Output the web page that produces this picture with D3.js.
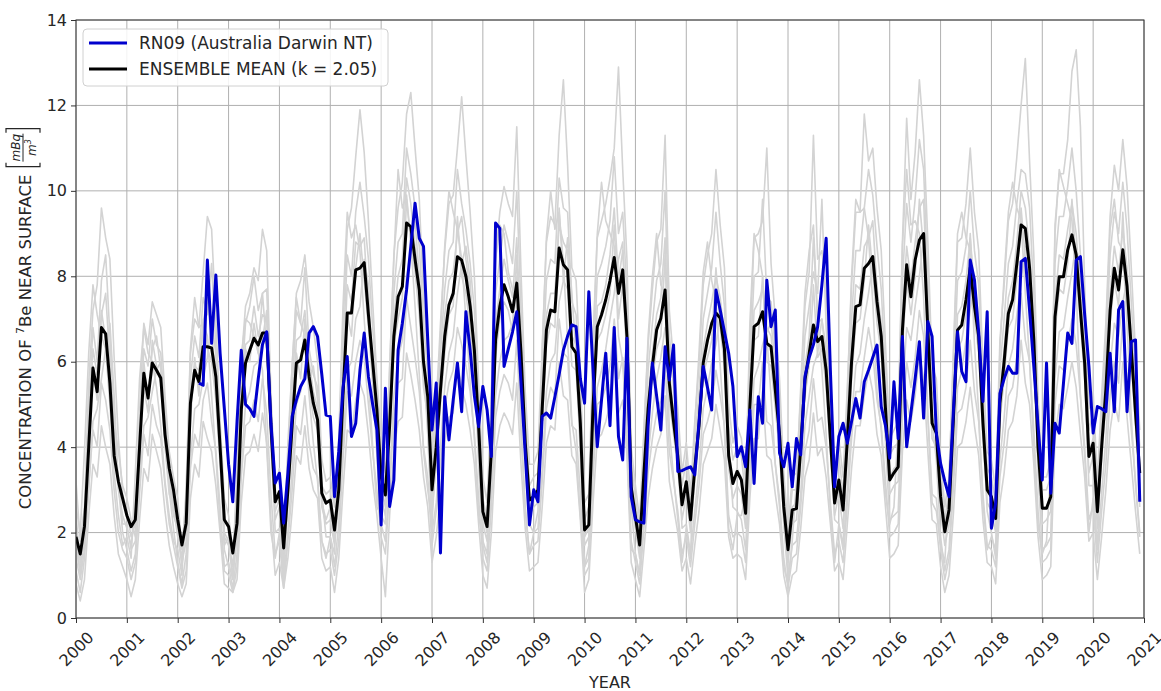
<!DOCTYPE html>
<html><head><meta charset="utf-8">
<script src="https://cdn.jsdelivr.net/npm/d3@7"></script>
<style>
body{margin:0;background:#fff}
text{font-family:"DejaVu Sans",sans-serif;fill:#262626}
</style></head>
<body><svg id="chart" width="1161" height="691"></svg>
<script>
// ---------- DATA ----------
const xTickYears = [2000,2001,2002,2003,2004,2005,2006,2007,2008,2009,2010,2011,2012,2013,2014,2015,2016,2017,2018,2019,2020,2021];
const yTicks = [0,2,4,6,8,10,12,14];
const seriesStartYear = 2000; // monthly values, January 2000 onward

const ensembleMean = [
1.9,1.5,2.15,4.0,5.85,5.3,6.8,6.65,5.5,3.8,3.2,2.8,
2.4,2.14,2.3,4.0,5.73,5.15,5.97,5.8,5.62,4.3,3.5,3.0,
2.3,1.71,2.22,5.03,5.8,5.53,6.35,6.35,6.32,5.65,4.0,2.3,
2.14,1.52,2.22,4.87,5.97,6.27,6.55,6.39,6.67,6.67,4.5,2.72,
2.96,1.64,3.0,4.5,5.97,6.04,6.51,5.65,5.03,4.64,2.92,2.69,
2.76,2.06,3.0,5.2,7.14,7.14,8.15,8.19,8.32,7.1,6.0,4.87,
3.31,2.88,4.5,6.59,7.52,7.76,9.25,9.16,8.4,7.68,6.0,5.18,
3.0,4.0,5.34,6.59,7.33,7.6,8.46,8.38,8.0,7.3,6.27,4.48,
2.49,2.14,3.93,6.51,7.3,7.8,7.52,7.17,7.84,6.2,4.1,2.76,
2.85,3.0,4.9,6.74,7.21,7.17,8.66,8.27,8.15,6.35,6.2,4.56,
2.06,2.18,4.95,6.82,7.1,7.45,7.9,8.44,7.6,8.15,6.59,3.07,
2.37,1.71,3.39,4.9,5.89,6.74,7.02,7.68,5.5,4.6,3.78,2.65,
3.19,2.3,3.5,4.5,5.97,6.5,6.9,7.14,7.02,6.3,3.8,3.15,
3.43,3.23,2.45,4.95,6.82,6.9,7.17,6.43,6.35,5.34,4.3,2.6,
1.6,2.53,2.56,4.0,5.57,6.2,6.86,6.47,6.59,5.8,4.2,2.69,
3.23,2.53,4.17,6.0,7.29,7.33,8.19,8.3,8.46,7.4,6.59,4.9,
3.23,3.4,3.54,6.74,8.27,7.52,8.38,8.85,9.0,6.74,4.56,4.33,
2.84,2.02,2.53,4.6,6.74,6.86,7.45,8.2,7.3,6.59,4.56,3.0,
2.84,2.33,5.03,6.0,7.13,7.45,8.3,9.2,9.12,8.2,6.5,4.0,
2.57,2.57,2.84,7.05,7.99,7.99,8.62,8.97,8.5,7.2,5.97,3.78,
4.09,2.49,4.0,5.34,7.2,8.19,7.68,8.62,7.76,6.3,4.8,3.39
];

const rn09StartMonth = 29; // June 2002 (months after January 2000)
const rn09 = [
5.5,5.45,8.38,6.43,8.03,6.2,4.9,
3.6,2.72,4.6,6.27,5.0,4.9,4.72,5.6,6.4,6.7,4.56,3.16,
3.39,2.22,3.4,4.72,5.1,5.42,5.6,6.67,6.82,6.59,5.7,4.75,
4.72,2.84,3.9,5.4,6.12,4.25,4.56,5.8,6.67,5.65,5.0,4.4,
2.18,5.38,2.61,3.23,6.27,6.9,7.68,8.7,9.71,8.89,8.7,6.5,
4.4,5.5,1.52,5.18,4.17,5.1,5.97,4.83,7.17,6.27,5.2,4.48,
5.42,4.87,3.78,9.25,9.12,5.89,6.3,6.7,7.17,5.5,3.85,2.18,
3.0,2.72,4.72,4.8,4.68,5.18,5.7,6.27,6.6,6.86,6.82,5.6,
5.03,7.64,5.8,4.01,5.1,6.2,4.5,6.8,4.25,3.7,6.55,2.84,
2.3,2.25,2.22,4.5,5.97,5.2,4.4,6.35,5.57,6.39,3.43,3.45,
3.5,3.54,3.35,4.6,5.89,5.4,4.87,7.68,7.21,6.7,6.2,5.42,
3.78,4.01,3.54,4.87,3.15,5.18,4.56,7.91,6.82,7.21,3.86,3.54,
4.09,3.07,4.2,3.82,5.65,6.1,6.4,6.82,7.8,8.89,5.8,3.07,
4.25,4.56,4.09,4.6,5.14,4.68,5.53,5.8,6.1,6.39,4.95,4.5,
3.74,5.53,4.2,6.59,4.01,4.8,5.6,6.47,4.68,6.94,6.59,4.33,
3.62,3.2,2.84,4.8,6.7,5.77,5.53,8.38,7.91,6.67,5.07,7.17,
2.1,2.69,5.26,5.6,5.89,5.73,5.73,8.34,8.42,7.2,5.89,4.5,
3.23,5.97,2.92,4.56,4.33,5.5,6.67,6.43,8.38,8.46,7.1,5.89,
4.33,4.95,4.9,4.83,6.2,4.83,7.21,7.41,4.83,6.47,6.51,2.72
];

// individual ensemble members (grey)
const memberA = [
3.2,1.8,2.6,5.5,7.2,7.8,9.6,8.9,8.4,6.1,4.2,2.9,
2.5,1.9,2.2,4.8,6.9,6.4,7.4,7.1,6.8,5.2,3.9,3.3,
2.8,1.6,2.9,6.2,7.0,6.8,8.1,9.4,9.1,7.0,4.6,2.8,
2.4,1.5,3.1,6.0,7.3,7.6,8.2,7.9,9.1,8.6,5.2,3.1,
3.5,2.1,3.8,5.9,7.6,7.9,8.5,7.4,6.8,6.0,3.7,3.2,
3.3,2.6,4.0,6.8,9.1,9.6,10.8,11.9,10.9,9.3,7.4,5.6,
4.2,3.4,5.8,8.5,9.6,10.2,11.8,12.3,11.0,9.8,7.5,6.1,
3.8,5.0,6.9,8.6,9.7,9.9,11.0,12.2,10.8,9.5,8.0,5.5,
3.3,2.7,5.1,8.4,9.5,10.1,9.7,9.4,11.5,8.1,5.3,3.6,
3.6,3.9,6.3,8.8,9.4,9.2,11.3,12.6,10.6,8.2,7.9,5.8,
2.7,2.9,6.4,8.9,9.3,9.7,10.3,11.0,12.9,10.5,8.4,4.0,
3.1,2.3,4.4,6.4,7.7,8.8,9.1,11.3,7.2,6.0,4.9,3.4,
4.1,2.9,4.6,5.9,7.8,8.5,9.0,10.5,9.2,8.2,5.0,4.1,
4.5,4.2,3.2,6.4,8.9,9.0,9.3,11.0,8.3,7.0,5.6,3.4,
2.1,3.3,3.4,5.2,7.3,8.1,11.3,8.4,8.6,7.6,5.5,3.5,
4.2,3.3,5.4,7.8,9.5,9.5,11.8,10.7,11.0,9.6,8.6,6.4,
4.2,4.4,4.6,8.8,11.7,9.8,10.9,12.6,11.3,8.8,5.9,5.6,
3.7,2.6,3.3,6.0,8.8,8.9,9.7,11.0,9.5,8.6,5.9,3.9,
3.7,3.0,6.5,7.8,9.3,9.7,10.8,12.0,13.1,10.7,8.5,5.2,
3.3,3.3,3.7,9.2,10.4,10.4,11.2,12.8,13.3,11.5,7.8,4.9,
5.3,3.2,5.2,6.9,9.4,10.6,10.0,11.2,10.1,8.2,6.2,4.4
];
const memberB = [
2.4,1.3,2.0,4.9,6.8,6.0,7.9,8.5,6.6,4.6,3.9,3.1,
2.8,2.3,1.9,4.1,6.3,5.9,7.0,6.4,6.2,4.8,3.4,2.6,
2.0,1.4,2.5,5.6,6.6,6.1,7.5,7.1,8.3,6.3,4.5,2.0,
1.8,1.2,2.6,5.4,6.9,7.3,8.0,7.2,7.6,7.7,5.0,3.2,
3.3,1.5,3.4,5.3,7.2,6.9,8.2,6.3,5.7,5.4,3.1,2.9,
3.0,2.2,3.5,6.1,8.5,8.0,9.5,10.2,9.4,8.4,6.8,5.5,
3.6,3.1,5.2,7.6,8.8,9.0,11.0,10.4,9.6,8.7,6.9,5.7,
3.4,4.6,6.2,7.7,8.6,8.8,10.5,9.7,9.1,8.3,7.2,5.0,
2.8,2.3,4.5,7.6,8.4,9.2,8.8,8.3,10.0,7.3,4.8,3.1,
3.3,3.4,5.7,7.9,8.4,8.3,10.3,9.6,9.5,7.4,7.1,5.1,
2.3,2.6,5.8,8.0,8.3,8.7,9.3,10.8,9.0,9.5,7.6,3.6,
2.8,2.0,3.9,5.8,6.9,7.9,8.3,10.0,6.5,5.4,4.4,3.1,
3.7,2.6,4.1,5.3,7.0,7.6,8.2,9.5,8.3,7.3,4.5,3.7,
4.0,3.8,2.8,5.8,8.0,8.1,9.8,7.5,7.4,6.3,5.0,3.1,
1.9,3.0,3.0,4.7,6.6,7.3,8.1,7.6,9.8,6.8,4.9,3.2,
3.8,2.9,4.9,7.0,8.6,8.6,9.6,10.5,9.9,8.7,7.7,5.7,
3.8,4.0,4.1,7.9,9.7,8.8,9.8,11.2,10.5,7.9,5.3,5.0,
3.3,2.3,3.0,5.4,7.9,8.1,8.7,10.0,8.6,7.8,5.3,3.5,
3.3,2.7,5.8,7.0,8.3,8.7,9.7,10.5,10.4,9.6,7.6,4.7,
3.0,3.0,3.3,8.3,9.4,9.4,10.1,11.0,10.0,8.5,7.0,4.4,
4.8,2.9,4.7,6.3,8.5,9.5,9.0,10.2,9.1,7.4,5.6,4.0
];
const memberC = [
1.6,1.1,2.3,3.8,5.9,5.1,7.2,6.5,5.7,4.4,3.0,2.4,
2.1,1.7,2.4,4.3,5.4,4.8,6.5,5.9,5.5,4.0,2.9,2.6,
1.9,1.3,1.8,4.6,6.1,5.2,7.0,6.3,6.0,5.1,3.6,1.9,
1.7,1.0,1.9,4.5,6.3,6.0,6.9,6.2,7.6,6.3,4.0,2.3,
2.6,1.2,2.7,4.2,6.2,5.6,7.0,5.4,4.7,4.4,2.6,2.2,
2.3,1.7,2.7,5.0,7.1,6.6,8.2,9.0,7.9,6.8,5.5,4.3,
2.8,2.4,4.2,6.4,7.0,7.5,9.8,8.8,8.1,7.1,5.4,4.7,
2.5,3.6,5.0,6.2,7.1,7.3,9.4,8.0,7.6,6.8,5.7,4.0,
2.2,1.8,3.7,6.1,7.0,7.4,7.2,6.7,8.5,5.7,3.8,2.4,
2.6,2.7,4.5,6.4,6.9,6.8,9.6,7.9,7.7,5.9,5.8,4.1,
1.7,1.9,4.6,6.5,6.7,7.1,7.6,9.2,7.0,7.8,6.1,2.8,
2.1,1.4,3.1,4.6,5.6,6.3,6.6,8.5,5.1,4.3,3.5,2.3,
2.9,2.0,3.2,4.2,5.7,6.1,6.5,8.2,6.8,5.9,3.5,2.8,
3.1,2.9,2.1,4.6,6.5,6.6,8.0,6.0,5.9,4.9,3.9,2.3,
1.3,2.2,2.3,3.6,5.2,5.9,7.8,6.1,6.3,5.4,3.9,2.4,
2.9,2.1,3.8,5.6,6.9,7.0,7.9,9.2,8.1,6.9,6.2,4.5,
2.9,3.1,3.2,6.3,7.9,7.1,8.0,9.8,8.6,6.4,4.2,4.0,
2.5,1.7,2.2,4.2,6.3,6.5,7.1,9.0,7.0,6.2,4.2,2.7,
2.5,2.0,4.6,5.6,6.8,7.0,7.9,9.6,8.4,7.8,6.1,3.7,
2.2,2.3,2.5,6.7,7.7,7.6,8.3,9.8,8.2,6.9,5.6,3.4,
3.8,2.1,3.7,5.0,6.9,7.9,7.3,9.5,7.4,6.0,4.5,3.1
];
const memberD = [
1.1,0.6,1.4,3.1,4.4,4.0,5.5,5.1,4.4,3.0,2.0,1.6,
1.4,0.9,1.3,2.9,4.3,3.8,5.0,4.5,4.2,3.1,2.2,1.7,
1.2,0.7,1.1,3.5,4.3,4.0,5.1,5.5,4.6,3.9,2.6,1.1,
1.0,0.6,1.2,3.3,4.5,4.6,5.1,4.6,5.6,4.8,2.9,1.5,
1.8,0.7,1.8,3.0,4.5,4.3,5.2,4.1,3.5,3.3,1.8,1.5,
1.6,1.0,1.8,3.7,5.3,5.2,6.0,6.5,6.1,5.0,3.9,3.0,
1.9,1.5,3.0,4.7,5.5,5.6,7.5,6.8,6.1,5.3,4.0,3.3,
1.7,2.5,3.6,4.9,5.5,5.8,6.8,6.4,5.9,5.3,4.3,2.8,
1.4,1.1,2.6,4.7,5.3,5.7,5.5,5.1,6.5,4.3,2.6,1.5,
1.7,1.8,3.2,4.9,5.4,5.2,7.0,6.2,6.1,4.5,4.4,2.9,
1.0,1.2,3.3,5.0,5.1,5.4,5.9,7.0,5.6,6.1,4.5,1.8,
1.3,0.8,2.1,3.4,4.2,4.8,5.1,6.0,3.9,3.2,2.5,1.5,
1.9,1.2,2.2,3.1,4.3,4.6,5.0,5.8,5.2,4.5,2.4,1.9,
2.0,1.9,1.3,3.4,5.0,5.0,6.0,4.6,4.5,3.6,2.8,1.4,
0.7,1.4,1.5,2.6,3.9,4.4,5.6,4.6,4.7,4.0,2.7,1.5,
1.8,1.3,2.7,4.2,5.3,5.3,6.1,6.8,6.2,5.1,4.5,3.2,
1.9,2.0,2.2,4.7,6.0,5.4,6.1,7.2,6.6,4.7,2.9,2.8,
1.6,0.9,1.4,3.0,4.8,4.9,5.4,6.5,5.3,4.6,2.9,1.7,
1.6,1.2,3.3,4.1,5.2,5.4,6.1,7.6,6.5,6.0,4.4,2.5,
1.3,1.4,1.6,5.0,5.9,5.8,6.4,7.0,6.4,5.2,4.0,2.3,
2.6,1.3,2.5,3.6,5.2,6.0,5.5,7.0,5.6,4.4,3.2,2.0
];
const memberE = [
0.8,0.4,0.9,2.4,3.6,3.3,4.5,4.0,3.6,2.4,1.5,1.2,
0.9,0.5,0.9,2.3,3.5,3.2,4.3,3.9,3.5,2.5,1.7,1.2,
0.8,0.5,0.8,2.8,3.6,3.3,4.6,4.2,3.9,3.1,2.0,0.8,
0.7,0.6,0.9,2.7,3.8,3.9,4.3,3.9,4.8,4.1,2.3,1.0,
1.3,0.7,1.4,2.5,3.8,3.6,4.5,3.5,3.0,2.8,1.4,1.1,
1.2,0.6,1.4,3.0,4.4,4.3,5.1,5.5,5.2,4.3,3.2,2.4,
1.4,0.5,2.4,3.9,4.6,4.7,6.2,5.7,5.1,4.4,3.3,2.6,
1.3,1.9,2.9,4.1,4.7,4.8,6.0,5.4,5.0,4.4,3.6,2.2,
1.0,0.7,2.0,3.9,4.5,4.8,4.6,4.3,5.5,3.6,2.1,1.1,
1.2,1.3,2.6,4.1,4.5,4.4,6.0,5.2,5.1,3.8,3.6,2.3,
0.6,0.9,2.7,4.2,4.3,4.6,5.0,6.2,4.8,5.1,3.8,1.3,
0.9,0.5,1.6,2.8,3.5,4.0,4.3,5.2,3.2,2.6,2.0,1.1,
1.4,0.8,1.7,2.5,3.6,3.9,4.2,5.0,4.4,3.7,1.9,1.4,
1.5,1.4,0.9,2.8,4.2,4.2,5.3,3.8,3.7,2.9,2.2,1.0,
0.5,1.0,1.1,2.1,3.3,3.7,4.8,3.8,4.0,3.3,2.2,1.1,
1.3,0.9,2.2,3.5,4.5,4.5,5.2,5.8,5.3,4.3,3.8,2.6,
1.4,1.5,1.7,3.9,5.1,4.6,5.2,6.2,5.6,3.9,2.3,2.2,
1.2,0.6,1.0,2.4,4.0,4.1,4.6,5.4,4.5,3.8,2.3,1.3,
1.2,0.8,2.7,3.4,4.4,4.6,5.2,6.5,5.5,5.0,3.6,1.9,
0.9,1.0,1.2,4.2,5.0,4.9,5.4,6.0,5.4,4.3,3.3,1.8,
2.0,0.9,1.9,3.0,4.4,5.1,4.6,6.0,4.7,3.6,2.5,1.5
];
const memberF = [
2.6,2.0,3.9,6.2,7.8,7.1,6.6,6.3,5.0,3.4,2.4,1.7,
1.9,1.4,3.4,5.6,6.8,6.2,6.0,5.4,4.5,3.2,2.4,1.8,
1.6,1.0,3.1,6.3,7.5,6.8,6.9,6.6,5.2,3.8,2.2,1.2,
1.3,0.9,3.5,6.1,7.0,6.9,6.6,6.2,5.8,4.0,2.0,1.4,
2.0,1.0,4.1,5.9,7.5,6.9,6.6,5.2,4.1,3.2,1.8,1.4,
1.9,1.5,4.2,7.3,9.5,8.9,9.2,8.6,7.0,5.6,4.0,2.6,
2.4,2.2,5.9,8.4,10.5,9.6,9.9,8.8,7.3,5.7,3.9,3.0,
2.2,4.0,6.6,8.7,10.0,9.5,9.1,8.4,7.0,5.5,4.2,2.4,
1.8,1.5,5.3,8.4,9.2,9.0,8.1,7.7,7.2,4.6,2.5,1.5,
2.0,2.5,6.3,8.9,10.0,9.1,9.5,8.3,6.5,4.6,3.9,2.4,
1.2,1.7,6.5,9.0,10.2,9.3,9.0,8.7,6.6,6.0,4.1,1.6,
1.5,1.0,4.3,6.6,8.0,9.0,7.8,7.6,4.4,3.3,2.3,1.3,
2.1,1.4,4.5,6.2,8.1,8.8,7.9,7.4,5.9,4.4,2.1,1.6,
2.4,2.4,2.9,6.9,9.0,8.6,8.0,6.6,5.2,3.6,2.6,1.2,
0.8,1.8,3.2,5.4,7.6,8.6,9.2,7.0,5.8,4.3,2.5,1.3,
2.2,1.7,5.2,8.0,9.8,9.5,9.6,8.9,7.4,5.3,4.4,2.9,
2.2,2.6,4.5,8.7,10.5,9.2,9.3,9.0,7.5,4.8,2.7,2.5,
1.7,1.3,3.2,6.2,9.0,9.5,8.9,8.6,6.4,4.8,2.7,1.6,
1.9,1.6,6.3,8.0,9.5,10.2,9.6,9.3,7.6,6.0,4.0,2.2,
1.5,1.8,3.5,9.0,10.5,10.1,9.7,9.3,7.7,5.2,3.8,2.0,
2.8,1.6,4.6,6.6,9.1,9.8,8.8,8.6,6.9,4.7,3.1,1.9
];
const memberG = [
1.4,0.9,1.6,3.0,4.6,4.9,5.6,6.3,6.9,5.2,3.1,2.0,
1.6,1.1,1.5,3.2,4.5,4.7,5.3,5.8,6.0,4.9,3.0,2.1,
1.3,0.8,1.5,3.7,4.9,5.0,5.6,6.1,6.9,6.2,3.8,1.6,
1.2,0.7,1.5,3.6,5.0,5.3,5.9,6.0,6.5,7.2,4.6,2.0,
2.1,0.9,2.0,3.5,5.0,5.3,5.8,5.6,5.9,5.1,2.9,1.9,
1.9,1.2,2.2,4.1,5.8,6.0,7.0,7.3,8.4,7.8,5.6,3.8,
2.2,1.8,3.2,5.2,6.1,6.5,8.0,8.6,9.3,8.0,5.9,4.3,
2.0,2.7,4.0,5.4,6.2,6.6,7.6,8.3,8.7,7.9,6.1,3.6,
1.7,1.3,3.0,5.2,6.0,6.5,6.6,6.9,8.0,7.1,4.4,2.2,
2.0,2.1,3.5,5.3,6.0,6.2,7.4,7.9,8.9,7.6,6.2,3.8,
1.2,1.4,3.7,5.4,5.8,6.3,7.0,7.6,8.4,8.8,6.4,2.6,
1.5,1.0,2.3,3.8,4.8,5.6,6.1,6.8,6.6,5.6,4.0,2.1,
2.2,1.5,2.5,3.5,4.9,5.4,6.0,6.4,7.1,6.8,4.1,2.6,
2.5,2.3,1.6,3.8,5.6,5.9,6.4,6.7,6.9,6.0,4.4,2.2,
0.9,1.7,1.8,2.9,4.5,5.2,5.9,6.2,7.0,6.3,4.3,2.3,
2.2,1.6,3.0,4.7,5.9,6.2,7.0,7.6,8.3,7.8,6.3,4.1,
2.3,2.4,2.5,5.2,6.8,6.5,7.3,8.0,8.9,7.4,4.6,3.7,
1.9,1.1,1.6,3.4,5.4,5.8,6.5,7.2,7.9,7.0,4.5,2.5,
2.0,1.4,3.7,4.7,5.9,6.3,7.1,7.9,8.7,8.5,6.4,3.4,
1.6,1.7,1.9,5.6,6.7,6.8,7.5,8.1,8.8,7.8,5.8,3.1,
3.1,1.6,2.9,4.2,5.9,6.9,6.6,7.4,7.9,6.6,4.6,2.6
];
const memberH = [
2.0,1.0,1.9,4.4,6.3,5.7,7.1,7.6,6.0,4.1,3.3,2.2,
2.2,1.6,1.8,3.8,6.0,5.1,6.3,6.6,5.8,4.4,3.2,2.4,
2.1,1.2,2.3,5.3,5.9,5.8,6.9,7.5,6.7,5.6,4.1,1.7,
1.9,0.9,2.1,5.0,6.4,6.5,7.3,6.6,7.1,7.0,4.4,2.5,
2.8,1.1,2.9,4.8,6.5,6.6,7.2,6.0,5.3,4.9,2.7,2.3,
2.6,1.8,3.0,5.5,7.8,7.4,8.8,8.7,8.9,7.2,6.1,4.7,
3.1,2.6,4.6,7.0,8.0,8.4,10.3,9.7,8.7,7.9,6.0,5.0,
2.9,4.1,5.6,7.1,7.9,8.1,9.0,9.4,8.4,7.6,6.4,4.3,
2.4,2.0,4.1,6.9,7.7,8.4,7.9,7.5,8.9,6.5,4.3,2.6,
2.8,2.9,5.0,7.1,7.6,7.6,9.2,8.8,8.6,6.6,6.4,4.5,
1.9,2.1,5.1,7.3,7.4,7.8,8.5,9.6,7.9,8.6,6.8,3.2,
2.4,1.6,3.5,5.2,6.2,7.1,7.5,8.9,5.8,4.8,3.9,2.6,
3.2,2.2,3.6,4.7,6.3,6.9,7.4,8.0,7.5,6.6,3.9,3.2,
3.5,3.3,2.4,5.2,7.2,7.4,7.7,6.8,6.6,5.6,4.5,2.7,
1.6,2.6,2.7,4.2,5.9,6.6,8.9,6.9,7.0,6.0,4.4,2.8,
3.3,2.5,4.3,6.3,7.8,7.7,8.7,8.9,9.3,7.7,6.9,5.0,
3.3,3.5,3.6,7.1,8.7,7.9,8.8,9.6,9.8,7.1,4.7,4.4,
2.9,2.0,2.5,4.8,7.1,7.3,7.9,8.9,7.7,6.9,4.7,3.1,
2.9,2.3,5.2,6.3,7.5,7.9,8.8,10.0,9.6,8.6,6.8,4.1,
2.6,2.6,2.9,7.4,8.5,8.4,9.1,9.7,9.0,7.6,6.3,3.9,
4.2,2.5,4.1,5.6,7.6,8.7,8.1,9.1,8.2,6.6,5.0,3.5
];
const members = [memberA, memberB, memberC, memberD, memberE, memberF, memberG, memberH];

// ---------- CHART ----------
const W = 1161, H = 691;
const M = {left:76, right:17, top:20, bottom:73};
const svg = d3.select("#chart");
const x = d3.scaleLinear().domain([2000, 2021]).range([M.left, W - M.right]);
const y = d3.scaleLinear().domain([0, 14]).range([H - M.bottom, M.top]);

svg.append("defs").append("clipPath").attr("id","plotclip")
  .append("rect").attr("x", x(2000)).attr("y", y(14)).attr("width", x(2021)-x(2000)).attr("height", y(0)-y(14));

// grid
const grid = svg.append("g");
grid.selectAll(".vg").data(xTickYears).join("line")
  .attr("x1", d=>x(d)).attr("x2", d=>x(d)).attr("y1", y(0)).attr("y2", y(14))
  .attr("stroke","#b0b0b0").attr("stroke-width",1);
grid.selectAll(".hg").data(yTicks).join("line")
  .attr("x1", x(2000)).attr("x2", x(2021)).attr("y1", d=>y(d)).attr("y2", d=>y(d))
  .attr("stroke","#b0b0b0").attr("stroke-width",1);

const lineFrom = (startMonth) => d3.line()
  .x((d,i)=>x(seriesStartYear + (startMonth + i)/12))
  .y(d=>y(d));

const plot = svg.append("g").attr("clip-path","url(#plotclip)");
plot.selectAll(".member").data(members).join("path")
  .attr("d", d=>lineFrom(0)(d))
  .attr("fill","none").attr("stroke","#d3d3d3").attr("stroke-width",1.6).attr("stroke-linejoin","round");
plot.append("path").attr("d", lineFrom(0)(ensembleMean))
  .attr("fill","none").attr("stroke","#000").attr("stroke-width",3).attr("stroke-linejoin","round");
plot.append("path").attr("d", lineFrom(rn09StartMonth)(rn09))
  .attr("fill","none").attr("stroke","#0000cd").attr("stroke-width",3).attr("stroke-linejoin","round");

// axes
const xAxis = svg.append("g").attr("transform",`translate(0,${y(0)})`)
  .call(d3.axisBottom(x).tickValues(xTickYears).tickFormat(d3.format("d")).tickSize(5).tickPadding(4));
xAxis.select(".domain").remove();
xAxis.selectAll("line").attr("stroke","#333");
xAxis.selectAll("text").attr("font-size",16).attr("fill","#262626")
  .attr("text-anchor","middle").attr("dy",null).attr("y",null)
  .attr("transform","translate(0,31) rotate(-45)").attr("dominant-baseline","central");

const yAxis = svg.append("g").attr("transform",`translate(${x(2000)},0)`)
  .call(d3.axisLeft(y).tickValues(yTicks).tickSize(5).tickPadding(4));
yAxis.select(".domain").remove();
yAxis.selectAll("line").attr("stroke","#333");
yAxis.selectAll("text").attr("font-size",16).attr("fill","#262626");

// frame
svg.append("rect").attr("x", x(2000)).attr("y", y(14)).attr("width", x(2021)-x(2000)).attr("height", y(0)-y(14))
  .attr("fill","none").attr("stroke","#333").attr("stroke-width",1);

// x label
svg.append("text").attr("x",(x(2000)+x(2021))/2).attr("y",688).attr("text-anchor","middle")
  .attr("font-size",16).text("YEAR");

// y label
const yl = svg.append("g").attr("transform",`translate(31,${(y(0)+y(14))/2}) rotate(-90)`);
const yt = yl.append("text").attr("font-size",16.5);
yt.append("tspan").text("CONCENTRATION OF ");
yt.append("tspan").attr("font-size",11).attr("dy",-7).text("7");
yt.append("tspan").attr("dy",7).text("Be NEAR SURFACE");
const tw = yt.node().getComputedTextLength();
const fw = 38, gap = 8;
const total = tw + gap + fw;
yt.attr("x", -total/2);
const fx = -total/2 + tw + gap;
const frac = yl.append("g");
frac.append("path").attr("d",`M${fx+4},-25H${fx}V9H${fx+4}`).attr("fill","none").attr("stroke","#262626").attr("stroke-width",1.2);
frac.append("path").attr("d",`M${fx+fw-4},-25H${fx+fw}V9H${fx+fw-4}`).attr("fill","none").attr("stroke","#262626").attr("stroke-width",1.2);
frac.append("text").attr("x",fx+fw/2).attr("y",-11).attr("text-anchor","middle").attr("font-size",12).attr("font-style","italic").text("mBq");
frac.append("line").attr("x1",fx+5).attr("x2",fx+fw-5).attr("y1",-8).attr("y2",-8).attr("stroke","#262626").attr("stroke-width",1);
const den = frac.append("text").attr("x",fx+fw/2).attr("y",5).attr("text-anchor","middle").attr("font-size",12).attr("font-style","italic");
den.append("tspan").text("m");
den.append("tspan").attr("font-size",8).attr("dy",-5).text("3");

// legend
const lg = svg.append("g");
lg.append("rect").attr("x",83).attr("y",29).attr("width",305).attr("height",57).attr("rx",4)
  .attr("fill","#fff").attr("fill-opacity",0.85).attr("stroke","#d0d0d0");
const legendItems = [
  {label:"RN09 (Australia Darwin NT)", color:"#0000cd"},
  {label:"ENSEMBLE MEAN (k = 2.05)", color:"#000"}
];
legendItems.forEach((it,i)=>{
  const yy = 43 + i*26;
  lg.append("line").attr("x1",89).attr("x2",127).attr("y1",yy).attr("y2",yy).attr("stroke",it.color).attr("stroke-width",3);
  lg.append("text").attr("x",139).attr("y",yy+6).attr("font-size",17).text(it.label);
});
</script></body></html>
